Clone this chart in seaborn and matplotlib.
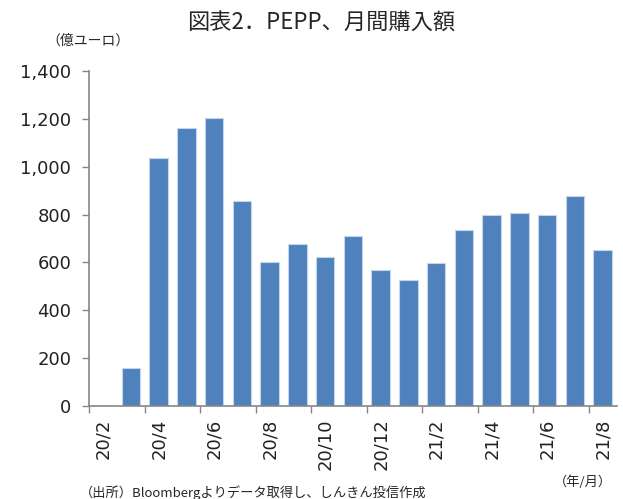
import matplotlib
matplotlib.use("Agg")
import matplotlib.pyplot as plt
import seaborn as sns
import pandas as pd

# monthly PEPP purchases (100 million euro)
months = ["20/2", "20/3", "20/4", "20/5", "20/6", "20/7", "20/8", "20/9", "20/10",
          "20/11", "20/12", "21/1", "21/2", "21/3", "21/4", "21/5", "21/6", "21/7", "21/8"]
amounts = [0, 159, 1037, 1161, 1204, 856, 600, 675, 621,
           710, 570, 528, 599, 737, 799, 806, 799, 876, 653]
yticks = [0, 200, 400, 600, 800, 1000, 1200, 1400]

sns.set_style("white")
plt.rcParams["font.family"] = ["DejaVu Sans", "Noto Sans CJK JP"]
jp = ["Noto Sans CJK JP", "DejaVu Sans"]

df = pd.DataFrame({"month": months, "amount": amounts})

fig = plt.figure(figsize=(6.23, 4.99), dpi=100)
ax = fig.add_axes([0.1433, 0.1864, 0.8463, 0.6713])

sns.barplot(data=df, x="month", y="amount", color="#4F81BD", width=0.67,
            edgecolor="#C5D5EA", linewidth=0.8, saturation=1, ax=ax)

ax.set_xlim(-0.5, len(months) - 0.5)
ax.set_ylim(0, 1400)
ax.set_yticks(yticks)
ax.set_yticklabels([f"{v:,}" for v in yticks], family="DejaVu Sans")

# labels on every other month, tick marks on category boundaries
ax.set_xticks(range(0, len(months), 2))
ax.set_xticklabels(months[::2], rotation=90, family="DejaVu Sans")
ax.set_xticks([i - 0.5 for i in range(0, len(months), 2)], minor=True)
ax.tick_params(axis="x", which="major", length=0, pad=9, labelsize=13, colors="#222222")
ax.tick_params(axis="x", which="minor", length=5, width=1, color="#868686", direction="out")
ax.tick_params(axis="y", length=5, width=1, color="#868686", direction="out",
               pad=8, labelsize=13, labelcolor="#222222")
ax.tick_params(axis="x", which="minor", bottom=True)
ax.tick_params(axis="y", left=True)
ax.set_xlabel("")
ax.set_ylabel("")

sns.despine(ax=ax)
for side in ["left", "bottom"]:
    ax.spines[side].set_color("#868686")
    ax.spines[side].set_linewidth(1.2)

fig.text(0.516, 0.954, "図表2．PEPP、月間購入額", ha="center", va="center",
         fontsize=16, family=jp)
fig.text(0.142, 0.918, "（億ユーロ）", ha="center", va="center", fontsize=10,
         family=jp)
fig.text(0.935, 0.033, "（年/月）", ha="center", va="center", fontsize=9.5,
         family=jp)
fig.text(0.128, 0.012, "（出所）Bloombergよりデータ取得し、しんきん投信作成", ha="left",
         va="center", fontsize=9.5, family=jp)

fig.savefig("out.png", dpi=100)
